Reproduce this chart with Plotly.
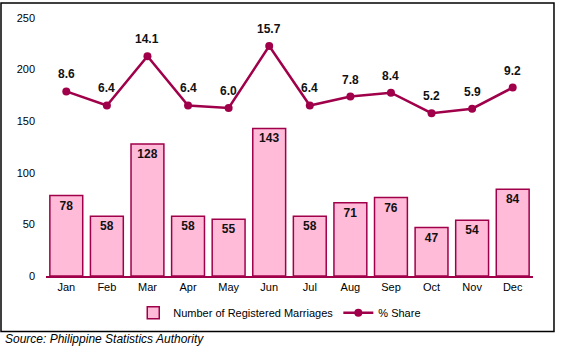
import plotly.graph_objects as go

months = ["Jan", "Feb", "Mar", "Apr", "May", "Jun", "Jul", "Aug", "Sep", "Oct", "Nov", "Dec"]
marriages = [78, 58, 128, 58, 55, 143, 58, 71, 76, 47, 54, 84]
share = [8.6, 6.4, 14.1, 6.4, 6.0, 15.7, 6.4, 7.8, 8.4, 5.2, 5.9, 9.2]

crimson = "#A0004A"
pink = "#FFBBD8"
font = "Liberation Sans, Arial, sans-serif"

fig = go.Figure()
fig.add_trace(go.Bar(
    x=months, y=marriages, name="Number of Registered Marriages",
    marker=dict(color=pink, line=dict(color=crimson, width=1.5)),
    text=[str(v) for v in marriages], textposition="inside", insidetextanchor="end",
    textfont=dict(family=font, size=12, color="#111111", weight="bold"),
    textangle=0, cliponaxis=False,
))
fig.add_trace(go.Scatter(
    x=months, y=share, name="% Share", yaxis="y2", mode="lines+markers",
    line=dict(color=crimson, width=2.5), marker=dict(color=crimson, size=8),
    cliponaxis=False,
))

annotations = [dict(x=m, y=v, xref="x", yref="y2", text=f"{v:.1f}", showarrow=False,
                    yshift=17, font=dict(family=font, size=12, color="#111111", weight="bold"))
               for m, v in zip(months, share)]
annotations.append(dict(text="Source: Philippine Statistics Authority", xref="paper", yref="paper",
                        x=-0.088, y=-0.246, xanchor="left", yanchor="middle", showarrow=False,
                        font=dict(family=font, size=12, style="italic", color="#000000")))

fig.update_layout(
    width=564, height=354,
    margin=dict(l=46, r=31, t=16, b=78),
    paper_bgcolor="white", plot_bgcolor="white",
    font=dict(family=font, size=11, color="#000000"),
    bargap=0.19,
    showlegend=True,
    legend=dict(orientation="h", x=0.48, xanchor="center", y=-0.142, yanchor="middle",
                font=dict(family=font, size=11), itemwidth=30, tracegroupgap=0,
                bgcolor="rgba(0,0,0,0)"),
    xaxis=dict(range=[-0.5, 11.5], autorange=False, showgrid=False, showline=True,
               linecolor=crimson, linewidth=1.5, ticks="", tickfont=dict(size=11),
               fixedrange=True),
    yaxis=dict(range=[0, 250], tickvals=[0, 50, 100, 150, 200, 250], showgrid=False,
               zeroline=False, showline=False, ticks="", ticklabelstandoff=10,
               tickfont=dict(size=11)),
    yaxis2=dict(range=[-20.3, 20.1], overlaying="y", side="right", visible=False,
                showgrid=False, zeroline=False),
    shapes=[dict(type="rect", xref="paper", yref="paper",
                 x0=-0.0924, x1=1.0431, y0=-0.2154, y1=1.0577,
                 line=dict(color="black", width=1.5), fillcolor="rgba(0,0,0,0)", layer="below")],
    annotations=annotations,
)

fig.write_html("out.html")
